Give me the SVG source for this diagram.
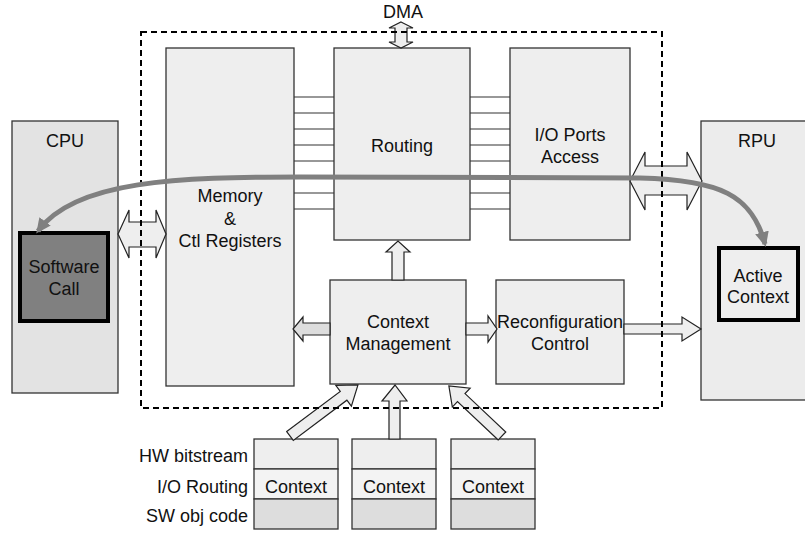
<svg xmlns="http://www.w3.org/2000/svg" width="805" height="533" viewBox="0 0 805 533">
<style>
text{font-family:"Liberation Sans",Arial,sans-serif;font-size:18px;fill:#111;text-anchor:middle}
.lbl{text-anchor:end}
.box{fill:#eeeeee;stroke:#333;stroke-width:1.3}
.arr{fill:#eeeeee;stroke:#222;stroke-width:1.2}
.bus{stroke:#333;stroke-width:1.2}
</style>
<defs>
<marker id="gh" markerUnits="userSpaceOnUse" markerWidth="16" markerHeight="14" refX="12" refY="7" orient="auto-start-reverse">
<path d="M0,0 L15,7 L0,14 z" fill="#808080"/>
</marker>
</defs>
<g id="cpu">
<rect x="12" y="121" width="106" height="272" fill="#e3e3e3" stroke="#333" stroke-width="1.3"/>
<text x="65" y="147">CPU</text>
</g>
<g id="software-call">
<rect x="20" y="233" width="88" height="88" fill="#808080" stroke="#000" stroke-width="4"/>
<text x="64" y="273">Software</text>
<text x="64" y="295">Call</text>
</g>
<g id="rpu">
<rect x="701" y="121" width="110" height="279" fill="#ececec" stroke="#333" stroke-width="1.3"/>
<text x="757" y="147">RPU</text>
</g>
<g id="active-context">
<rect x="719" y="248" width="79" height="72" fill="#eeeeee" stroke="#000" stroke-width="4"/>
<text x="758" y="282">Active</text>
<text x="758" y="303">Context</text>
</g>
<g id="bus">
<line class="bus" x1="294" y1="97" x2="334" y2="97"/>
<line class="bus" x1="294" y1="113" x2="334" y2="113"/>
<line class="bus" x1="294" y1="129" x2="334" y2="129"/>
<line class="bus" x1="294" y1="145" x2="334" y2="145"/>
<line class="bus" x1="294" y1="161" x2="334" y2="161"/>
<line class="bus" x1="294" y1="177" x2="334" y2="177"/>
<line class="bus" x1="294" y1="193" x2="334" y2="193"/>
<line class="bus" x1="294" y1="209" x2="334" y2="209"/>
<line class="bus" x1="470" y1="97" x2="510" y2="97"/>
<line class="bus" x1="470" y1="113" x2="510" y2="113"/>
<line class="bus" x1="470" y1="129" x2="510" y2="129"/>
<line class="bus" x1="470" y1="145" x2="510" y2="145"/>
<line class="bus" x1="470" y1="161" x2="510" y2="161"/>
<line class="bus" x1="470" y1="177" x2="510" y2="177"/>
<line class="bus" x1="470" y1="193" x2="510" y2="193"/>
<line class="bus" x1="470" y1="209" x2="510" y2="209"/>
</g>
<g id="memory">
<rect class="box" x="166" y="48" width="128" height="338"/>
<text x="230" y="202">Memory</text>
<text x="230" y="225">&amp;</text>
<text x="230" y="247">Ctl Registers</text>
</g>
<g id="routing">
<rect class="box" x="334" y="48" width="136" height="192"/>
<text x="402" y="152">Routing</text>
</g>
<g id="io-ports">
<rect class="box" x="510" y="48" width="120" height="192"/>
<text x="570" y="141">I/O Ports</text>
<text x="570" y="163">Access</text>
</g>
<g id="context-management">
<rect class="box" x="330" y="280" width="136" height="104"/>
<text x="398" y="328">Context</text>
<text x="398" y="350">Management</text>
</g>
<g id="reconfiguration-control">
<rect class="box" x="496" y="280" width="128" height="104"/>
<text x="560" y="328">Reconfiguration</text>
<text x="560" y="350">Control</text>
</g>
<g id="context-1">
<rect x="254" y="439" width="84" height="30" fill="#eeeeee" stroke="#333" stroke-width="1.3"/>
<rect x="254" y="469" width="84" height="30" fill="#f3f3f3" stroke="#333" stroke-width="1.3"/>
<rect x="254" y="499" width="84" height="30" fill="#dddddd" stroke="#333" stroke-width="1.3"/>
<text x="296" y="493">Context</text>
</g>
<g id="context-2">
<rect x="352" y="439" width="84" height="30" fill="#eeeeee" stroke="#333" stroke-width="1.3"/>
<rect x="352" y="469" width="84" height="30" fill="#f3f3f3" stroke="#333" stroke-width="1.3"/>
<rect x="352" y="499" width="84" height="30" fill="#dddddd" stroke="#333" stroke-width="1.3"/>
<text x="394" y="493">Context</text>
</g>
<g id="context-3">
<rect x="451" y="439" width="84" height="30" fill="#eeeeee" stroke="#333" stroke-width="1.3"/>
<rect x="451" y="469" width="84" height="30" fill="#f3f3f3" stroke="#333" stroke-width="1.3"/>
<rect x="451" y="499" width="84" height="30" fill="#dddddd" stroke="#333" stroke-width="1.3"/>
<text x="493" y="493">Context</text>
</g>
<g id="labels">
<text class="lbl" x="248" y="462">HW bitstream</text>
<text class="lbl" x="248" y="493">I/O Routing</text>
<text class="lbl" x="248" y="522">SW obj code</text>
</g>
<g id="connectors">
<polygon class="arr" points="401,22 413,28 407,28 407,42 413,42 401,48 389,42 395,42 395,28 389,28"/>
<polygon class="arr" points="118,234 129,210 129,222 156,222 156,210 166,234 156,258 156,247 129,247 129,258"/>
<polygon class="arr" points="630,181 645,152 645,166 687,166 687,152 702,181 687,210 687,195 645,195 645,210"/>
<polygon class="arr" style="fill:#dddddd" points="330,323 303,323 303,317 293,329 303,341 303,335 330,335"/>
<polygon class="arr" points="466,323 488,323 488,316 497,329 488,342 488,335 466,335"/>
<polygon class="arr" points="624,324 682,324 682,317 701,329 682,341 682,334 624,334"/>
<polygon class="arr" points="392,280 392,252 386,252 398,241 410,252 404,252 404,280"/>
<polygon class="arr" points="389,439 389,401 382,401 395,385 407,401 400,401 400,439"/>
<polygon class="arr" transform="translate(290,436) rotate(-36.9)" points="0,-5.5 67,-5.5 67,-13 85,0 67,13 67,5.5 0,5.5"/>
<polygon class="arr" transform="translate(502,436) rotate(-136.7)" points="0,-5.5 56,-5.5 56,-13 73,0 56,13 56,5.5 0,5.5"/>
<text x="403" y="18">DMA</text>
</g>
<rect id="rpu-boundary" x="141" y="32" width="521" height="376" fill="none" stroke="#000" stroke-width="2" stroke-dasharray="6,4"/>
<g id="call-path">
<path d="M 765,244 C 752,195 720,180 640,178 L 300,177 C 180,177 75,180 38,231" fill="none" stroke="#808080" stroke-width="5" marker-start="url(#gh)" marker-end="url(#gh)"/>
</g>
</svg>
